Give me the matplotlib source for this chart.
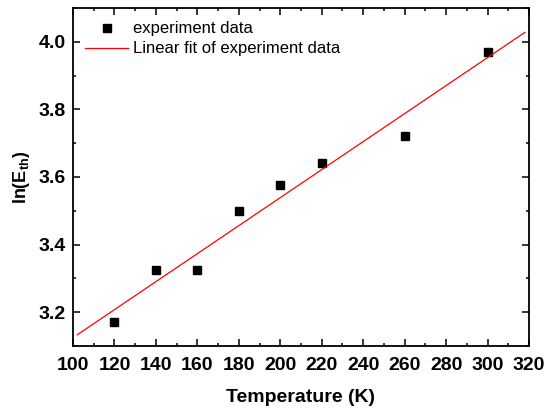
import numpy as np
import matplotlib
matplotlib.use("Agg")
import matplotlib.pyplot as plt
from matplotlib.ticker import MultipleLocator

temperature = [120, 140, 160, 180, 200, 220, 260, 300]
ln_eth = [3.170, 3.325, 3.325, 3.500, 3.577, 3.642, 3.720, 3.970]
fit_range = [102, 318]
x_ticks = [100, 120, 140, 160, 180, 200, 220, 240, 260, 280, 300, 320]
y_ticks = [3.2, 3.4, 3.6, 3.8, 4.0]

plt.rcParams['font.family'] = ['Liberation Sans', 'DejaVu Sans']

fig = plt.figure(figsize=(5.55, 4.08), dpi=100)
ax = fig.add_axes([73/555, 1-346/408, (529-73)/555, (346-8)/408])

slope, intercept = np.polyfit(temperature, ln_eth, 1)
fx = np.array(fit_range, dtype=float)
ax.plot(temperature, ln_eth, linestyle='none', marker='s', color='black',
        markersize=5.5, label='experiment data')
ax.plot(fx, slope*fx + intercept, color='red', linewidth=0.9,
        label='Linear fit of experiment data')

ax.set_xlim(100, 320)
ax.set_ylim(3.1, 4.1)
ax.set_xticks(x_ticks)
ax.set_yticks(y_ticks)
ax.set_yticklabels([f"{v:.1f}" for v in y_ticks])
ax.xaxis.set_minor_locator(MultipleLocator(10))
ax.yaxis.set_minor_locator(MultipleLocator(0.1))
ax.tick_params(which='both', direction='in', top=True, right=True, width=1.1)
ax.tick_params(which='major', length=5, labelsize=14, pad=5)
ax.tick_params(axis='x', which='major', pad=8)
ax.tick_params(which='minor', length=2.5)
for lab in ax.get_xticklabels() + ax.get_yticklabels():
    lab.set_fontweight('bold')
for sp in ax.spines.values():
    sp.set_linewidth(1.3)

ax.set_xlabel('Temperature (K)', fontsize=14, fontweight='bold', labelpad=11)
ax.set_ylabel(r'ln(E$_{\mathregular{th}}$)', fontsize=13, fontweight='bold', labelpad=5)

ax.legend(loc='upper left', frameon=False, fontsize=12, handlelength=2.6,
          borderaxespad=0.0, handletextpad=0.3, labelspacing=0.3,
          bbox_to_anchor=(0.012, 0.98))

fig.savefig('out.png', dpi=100)
